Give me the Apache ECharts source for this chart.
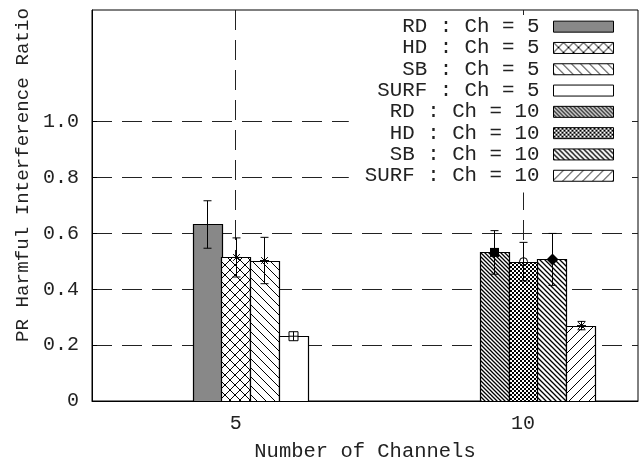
<!DOCTYPE html>
<html>
<head>
<meta charset="utf-8">
<script src="https://cdn.jsdelivr.net/npm/echarts@6/dist/echarts.min.js"></script>
<style>
html,body{margin:0;padding:0;background:#fff;}
#chart{width:639px;height:463px;}
</style>
</head>
<body>
<div id="chart"></div>
<script>
// ---- data ----
const groups = [5, 10];
const methods = ['RD', 'HD', 'SB', 'SURF'];
const values5 = [0.632, 0.514, 0.503, 0.232];
const errors5 = [0.085, 0.070, 0.083, 0.012];
const values10 = [0.532, 0.499, 0.507, 0.270];
const errors10 = [0.078, 0.069, 0.093, 0.015];
const xTicks = [5, 10];
const yTicks = [0, 0.2, 0.4, 0.6, 0.8, 1.0];
const yTickLabels = ['0', '0.2', '0.4', '0.6', '0.8', '1.0'];
const xTitle = 'Number of Channels';
const yTitle = 'PR Harmful Interference Ratio';

// ---- patterns ----
function tile(w, h, draw) {
  const c = document.createElement('canvas');
  c.width = w; c.height = h;
  const ctx = c.getContext('2d');
  ctx.fillStyle = '#fff'; ctx.fillRect(0, 0, w, h);
  ctx.strokeStyle = '#000'; ctx.fillStyle = '#000'; ctx.lineWidth = 1;
  draw(ctx, w, h);
  return { image: c, repeat: 'repeat' };
}
function diag(ctx, w, h, dir) {
  ctx.beginPath();
  if (dir > 0) { // "\"
    ctx.moveTo(-1, -1); ctx.lineTo(w + 1, h + 1);
    ctx.moveTo(-1 - w, -1); ctx.lineTo(1, h + 1);
    ctx.moveTo(w - 1, -1); ctx.lineTo(2 * w + 1, h + 1);
  } else { // "/"
    ctx.moveTo(-1, h + 1); ctx.lineTo(w + 1, -1);
    ctx.moveTo(-1 - w, h + 1); ctx.lineTo(1, -1);
    ctx.moveTo(w - 1, h + 1); ctx.lineTo(2 * w + 1, -1);
  }
  ctx.stroke();
}
const fills = [
  '#888888',
  tile(10, 10, (ctx, w, h) => { diag(ctx, w, h, 1); diag(ctx, w, h, -1); ctx.fillRect(4, 4, 2, 2); }),
  tile(9, 9, (ctx, w, h) => diag(ctx, w, h, 1)),
  '#ffffff',
  tile(4, 4, (ctx, w, h) => { ctx.lineWidth = 1.3; diag(ctx, w, h, 1); }),
  tile(4, 4, (ctx) => { ctx.fillRect(0, 0, 2, 2); ctx.fillRect(2, 2, 2, 2); }),
  tile(5, 5, (ctx, w, h) => { ctx.lineWidth = 1.3; diag(ctx, w, h, 1); }),
  tile(10, 10, (ctx, w, h) => diag(ctx, w, h, -1))
];
const markers = ['none', 'star', 'star', 'openSquare', 'filledSquare', 'openCircle', 'filledDiamond', 'star'];

function markerShape(type, cx, cy) {
  const s = { stroke: '#000', lineWidth: 1, fill: 'none' };
  const r = 4.5;
  switch (type) {
    case 'star':
      return [
        { type: 'line', shape: { x1: cx - r, y1: cy, x2: cx + r, y2: cy }, style: s },
        { type: 'line', shape: { x1: cx, y1: cy - r, x2: cx, y2: cy + r }, style: s },
        { type: 'line', shape: { x1: cx - r * 0.75, y1: cy - r * 0.75, x2: cx + r * 0.75, y2: cy + r * 0.75 }, style: s },
        { type: 'line', shape: { x1: cx - r * 0.75, y1: cy + r * 0.75, x2: cx + r * 0.75, y2: cy - r * 0.75 }, style: s }
      ];
    case 'openSquare':
      return [{ type: 'rect', shape: { x: cx - r, y: cy - r, width: 2 * r, height: 2 * r }, style: { stroke: '#000', lineWidth: 1, fill: '#fff' } },
              { type: 'line', shape: { x1: cx, y1: cy - r, x2: cx, y2: cy + r }, style: s },
              { type: 'line', shape: { x1: cx - r, y1: cy, x2: cx + r, y2: cy }, style: s }];
    case 'filledSquare':
      return [{ type: 'rect', shape: { x: cx - r, y: cy - r, width: 2 * r, height: 2 * r }, style: { fill: '#000' } }];
    case 'openCircle':
      return [{ type: 'circle', shape: { cx: cx, cy: cy, r: 4 }, style: { stroke: '#000', lineWidth: 1, fill: 'none' } }];
    case 'filledDiamond':
      return [{ type: 'polygon', shape: { points: [[cx, cy - 6], [cx + 6, cy], [cx, cy + 6], [cx - 6, cy]] }, style: { fill: '#000' } }];
    default:
      return [];
  }
}

const series = [];
const legendNames = [];
groups.forEach((g, gi) => {
  const vals = gi === 0 ? values5 : values10;
  const errs = gi === 0 ? errors5 : errors10;
  methods.forEach((m, mi) => {
    const idx = gi * 4 + mi;
    const name = m + ' : Ch = ' + g;
    legendNames.push(name);
    const fill = fills[idx];
    const mk = markers[idx];
    series.push({
      type: 'custom',
      name: name,
      itemStyle: { color: fill, borderColor: '#000', borderWidth: 1 },
      data: [[g + (mi - 1) * 0.5, vals[mi], errs[mi]]],
      encode: { x: 0, y: 1 },
      silent: true,
      renderItem: function (params, api) {
        const x = api.value(0), y = api.value(1), e = api.value(2);
        const p0 = api.coord([x - 0.25, y]);
        const p1 = api.coord([x + 0.25, 0]);
        const top = api.coord([x, y + e]);
        const bot = api.coord([x, y - e]);
        const cx = Math.round(top[0]) + 0.5;
        const ls = { stroke: '#000', lineWidth: 1 };
        const children = [
          { type: 'rect', shape: { x: Math.round(p0[0]) + 0.5, y: Math.round(p0[1]) + 0.5, width: Math.round(p1[0] - p0[0]), height: Math.round(p1[1] - p0[1]) },
            style: { fill: fill, stroke: '#000', lineWidth: 1.2 } },
          { type: 'line', shape: { x1: cx, y1: top[1], x2: cx, y2: bot[1] }, style: ls },
          { type: 'line', shape: { x1: cx - 4, y1: top[1], x2: cx + 4, y2: top[1] }, style: ls },
          { type: 'line', shape: { x1: cx - 4, y1: bot[1], x2: cx + 4, y2: bot[1] }, style: ls }
        ].concat(markerShape(mk, cx, p0[1]));
        return { type: 'group', children: children };
      }
    });
  });
});

const FONT = 'Liberation Mono';
const gridLine = { color: '#222', width: 1, type: [20, 10] };

const chart = echarts.init(document.getElementById('chart'), null, { renderer: 'canvas' });
chart.setOption({
  animation: false,
  backgroundColor: '#fff',
  grid: { left: 92, right: 1, top: 10, bottom: 62, outerBoundsMode: 'none', containLabel: false,
          show: true, borderColor: '#000', borderWidth: 1, backgroundColor: 'transparent' },
  xAxis: {
    type: 'value', min: 2.5, max: 12,
    name: xTitle, nameLocation: 'middle', nameGap: 40,
    nameTextStyle: { fontFamily: FONT, fontSize: 20.5, color: '#222' },
    axisLine: { show: true, lineStyle: { color: '#000', width: 1 } },
    axisTick: { show: true, inside: true, length: 5, customValues: xTicks, lineStyle: { color: '#000' } },
    axisLabel: { customValues: xTicks, fontFamily: FONT, fontSize: 20, color: '#222', margin: 13 },
    splitLine: { show: true, lineStyle: gridLine }
  },
  yAxis: {
    type: 'value', min: 0, max: 1.4,
    axisLine: { show: true, lineStyle: { color: '#000', width: 1 } },
    axisTick: { show: true, inside: true, length: 5, customValues: yTicks, lineStyle: { color: '#000' } },
    axisLabel: {
      customValues: yTicks, fontFamily: FONT, fontSize: 20, color: '#222', margin: 13,
      formatter: function (v) { const i = yTicks.findIndex(t => Math.abs(t - v) < 1e-6); return i >= 0 ? yTickLabels[i] : ''; }
    },
    splitLine: { show: true, lineStyle: gridLine }
  },
  legend: {
    orient: 'vertical', top: 15, right: 15, align: 'right',
    backgroundColor: '#fff', padding: [1, 10, 6, 16],
    itemWidth: 60, itemHeight: 11, itemGap: 0, icon: 'rect',
    selectedMode: false,
    itemStyle: { borderColor: '#000', borderWidth: 1 },
    textStyle: { fontFamily: FONT, fontSize: 20.8, color: '#222', lineHeight: 21.3, padding: [0, 9, 0, 0] },
    data: legendNames
  },
  graphic: [{
    type: 'text', x: 23, y: 175, rotation: Math.PI / 2,
    style: { text: yTitle, fontFamily: FONT, fontSize: 19.2, fill: '#222', align: 'center', verticalAlign: 'middle' }
  }],
  series: series
});
</script>
</body>
</html>
